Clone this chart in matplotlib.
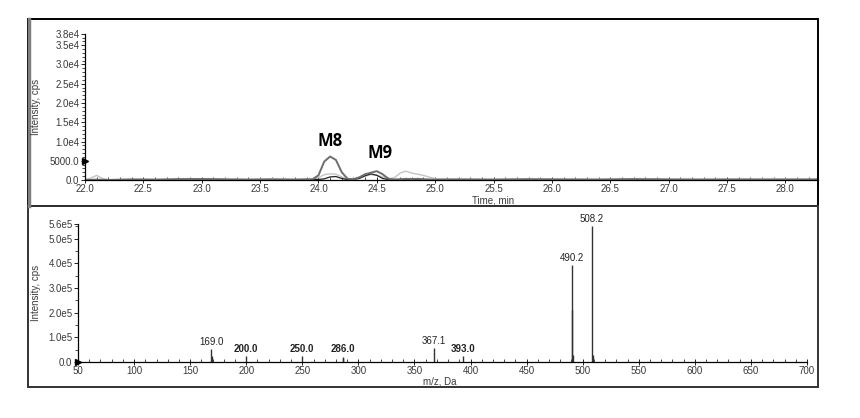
import matplotlib
matplotlib.use("Agg")
import matplotlib.pyplot as plt
from matplotlib.patches import Rectangle
from matplotlib.lines import Line2D
from matplotlib.ticker import MultipleLocator

plt.rcParams['font.family'] = ['Liberation Sans', 'DejaVu Sans']

# --- XIC chromatogram (top) ---
time_min = [22.00, 22.05, 22.10, 22.15, 22.20, 22.40, 22.60, 22.80, 23.00, 23.20,
            23.40, 23.60, 23.80, 23.95, 24.00, 24.05, 24.10, 24.15, 24.20, 24.25,
            24.30, 24.35, 24.40, 24.45, 24.50, 24.55, 24.60, 24.65, 24.70, 24.75,
            24.80, 24.85, 24.90, 25.00, 25.20, 25.50, 25.80, 26.10, 26.40, 26.70,
            27.00, 27.30, 27.60, 27.90, 28.30]
trace_dark = [0, 50, 100, 50, 0, 150, 100, 200, 250, 150,
              100, 150, 100, 200, 1200, 4800, 6100, 5200, 2000, 300,
              200, 700, 1500, 1900, 2300, 1500, 300, 150, 200, 300,
              250, 300, 200, 100, 150, 100, 200, 150, 100, 200,
              150, 100, 150, 100, 150]
trace_light = [100, 500, 1200, 400, 100, 200, 150, 250, 200, 300,
               200, 350, 200, 250, 600, 1400, 1600, 1500, 800, 200,
               200, 600, 1000, 1400, 1300, 800, 300, 600, 1800, 2300,
               1800, 1500, 1200, 300, 250, 200, 300, 200, 250, 300,
               200, 250, 200, 300, 200]
trace_black = [0, 0, 50, 0, 0, 100, 50, 150, 200, 100,
               50, 100, 50, 100, 150, 300, 800, 900, 400, 100,
               100, 400, 1100, 1600, 1200, 400, 100, 50, 100, 150,
               100, 150, 100, 50, 100, 50, 100, 50, 100, 150,
               100, 50, 100, 50, 100]
xic_yticks = [0, 5000, 10000, 15000, 20000, 25000, 30000, 35000, 38000]
xic_ylabels = ['0.0', '5000.0', '1.0e4', '1.5e4', '2.0e4', '2.5e4', '3.0e4', '3.5e4', '3.8e4']
xic_xticks = [22.0, 22.5, 23.0, 23.5, 24.0, 24.5, 25.0, 25.5, 26.0, 26.5, 27.0, 27.5, 28.0]
peak_names = ['M8', 'M9']
peak_name_pos = [(24.10, 7700), (24.53, 4600)]

# --- MS/MS spectrum (bottom) ---
mz = [169.0, 169.6, 200.0, 250.0, 286.0, 286.5, 367.1, 393.0,
      490.2, 490.6, 491.2, 508.2, 509.2]
intensity = [5.2e4, 2.5e4, 2.4e4, 2.4e4, 2.2e4, 1.5e4, 5.6e4, 2.4e4,
             3.95e5, 2.1e5, 3.0e4, 5.52e5, 3.0e4]
label_mz = [169.0, 200.0, 250.0, 286.0, 367.1, 393.0, 490.2, 508.2]
label_int = [5.2e4, 2.4e4, 2.4e4, 2.2e4, 5.6e4, 2.4e4, 3.95e5, 5.52e5]
label_bold = [False, True, True, True, False, True, False, False]
ms_yticks = [0, 1e5, 2e5, 3e5, 4e5, 5e5, 5.6e5]
ms_ylabels = ['0.0', '1.0e5', '2.0e5', '3.0e5', '4.0e5', '5.0e5', '5.6e5']
ms_xticks = [50, 100, 150, 200, 250, 300, 350, 400, 450, 500, 550, 600, 650, 700]

W, H = 860, 418
fig = plt.figure(figsize=(W / 100, H / 100), dpi=100)


def px(x0, y_top, x1, y_bot):
    return [x0 / W, 1 - y_bot / H, (x1 - x0) / W, (y_bot - y_top) / H]


def style(ax):
    for s in ['top', 'right']:
        ax.spines[s].set_visible(False)
    for s in ['left', 'bottom']:
        ax.spines[s].set_linewidth(0.9)
    ax.tick_params(axis='both', labelsize=7, colors='black', labelcolor='#3a3a3a',
                   width=0.6, length=3, pad=1)
    ax.tick_params(axis='x', direction='inout', length=4)
    ax.tick_params(which='minor', length=2, width=0.5)
    ax.tick_params(axis='x', which='minor', direction='in')


# frames around the panels
fig.patches.append(Rectangle((28 / W, 1 - 206 / H), 790 / W, 187 / H, transform=fig.transFigure,
                             fill=False, edgecolor='black', linewidth=1.4))
fig.patches.append(Rectangle((28 / W, 1 - 387 / H), 790 / W, 181 / H, transform=fig.transFigure,
                             fill=False, edgecolor='#333333', linewidth=1.4))
fig.lines.append(Line2D([29 / W, 29 / W], [1 - 206 / H, 1 - 19 / H], transform=fig.transFigure,
                        color='#808080', linewidth=2.5))

# top: chromatogram
ax1 = fig.add_axes(px(85, 33.7, 818, 180))
ax1.plot(time_min, trace_light, color='#c4c4c4', lw=1.0)
ax1.plot(time_min, trace_black, color='#222222', lw=0.9)
ax1.plot(time_min, trace_dark, color='#6e6e6e', lw=1.4)
ax1.set_xlim(22.0, 28.28)
ax1.set_ylim(0, 38000)
ax1.set_xticks(xic_xticks)
ax1.set_xticklabels(['%.1f' % t for t in xic_xticks])
ax1.set_yticks(xic_yticks)
ax1.set_yticklabels(xic_ylabels)
ax1.xaxis.set_minor_locator(MultipleLocator(0.1))
ax1.yaxis.set_minor_locator(MultipleLocator(1000))
style(ax1)
for name, (tx, ty) in zip(peak_names, peak_name_pos):
    ax1.text(tx, ty, name, fontsize=12, fontweight='bold', family=['Open Sans', 'DejaVu Sans'],
             ha='center', va='bottom', color='black')
ax1.plot([0], [5000 / 38000], marker='>', color='black', markersize=4,
         transform=ax1.transAxes, clip_on=False)
fig.text(493 / W, 1 - 200 / H, 'Time, min', fontsize=7, color='#3a3a3a', ha='center', va='center')
fig.text(36 / W, 1 - 107 / H, 'Intensity, cps', fontsize=7, color='#3a3a3a',
         rotation=90, ha='center', va='center')

# bottom: spectrum
ax2 = fig.add_axes(px(78, 224, 807, 362))
ax2.vlines(mz, 0, intensity, color='#333333', lw=1.0)
ax2.set_xlim(50, 700)
ax2.set_ylim(0, 5.6e5)
ax2.set_xticks(ms_xticks)
ax2.set_yticks(ms_yticks)
ax2.set_yticklabels(ms_ylabels)
ax2.xaxis.set_minor_locator(MultipleLocator(10))
ax2.yaxis.set_minor_locator(MultipleLocator(5e4))
style(ax2)
for m, i, b in zip(label_mz, label_int, label_bold):
    ax2.annotate('%.1f' % m, (m, i), xytext=(0, 1.5), textcoords='offset points',
                 ha='center', va='bottom', fontsize=7, color='#222222',
                 fontweight='bold' if b else 'normal')
ax2.plot([0], [0], marker='>', color='black', markersize=4,
         transform=ax2.transAxes, clip_on=False)
fig.text(440 / W, 1 - 382 / H, 'm/z, Da', fontsize=7, color='#3a3a3a', ha='center', va='center')
fig.text(36 / W, 1 - 293 / H, 'Intensity, cps', fontsize=7, color='#3a3a3a',
         rotation=90, ha='center', va='center')

fig.savefig('out.png', dpi=100)
